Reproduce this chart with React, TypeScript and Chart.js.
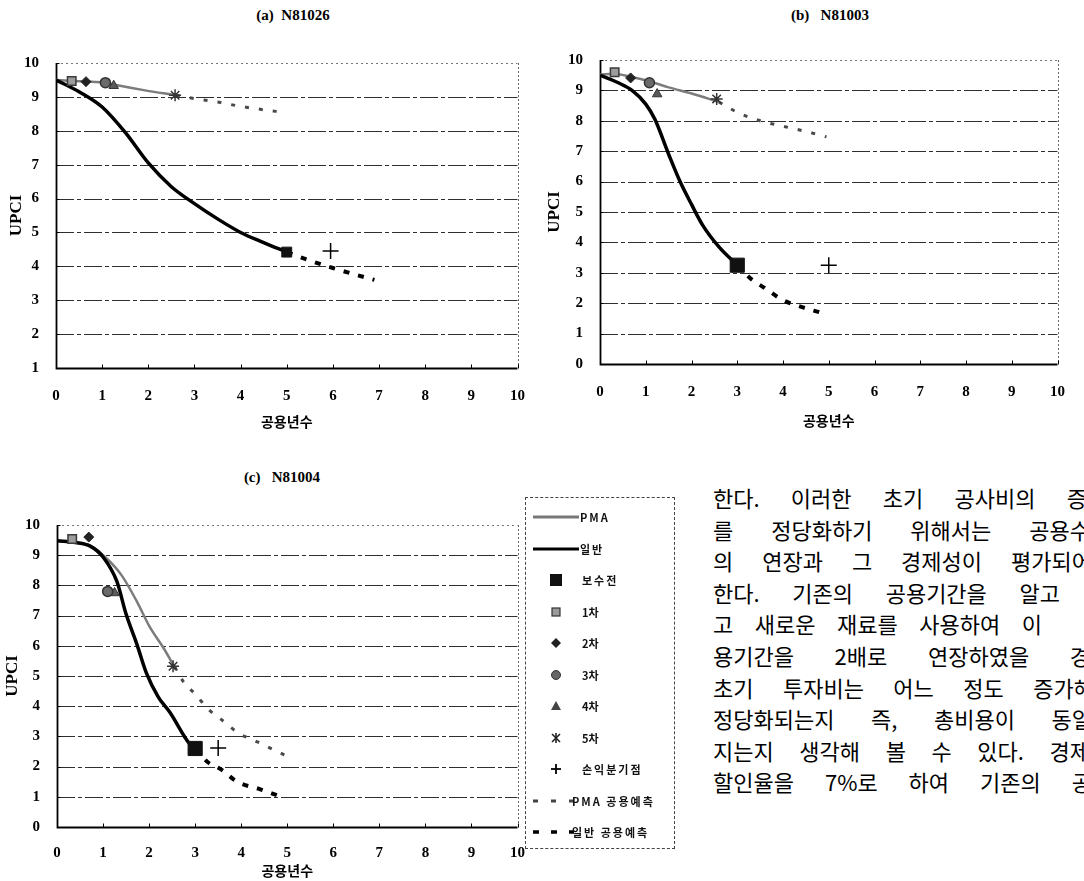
import React, { useEffect, useRef } from "react";
import { Chart, registerables } from "chart.js";

Chart.register(...registerables);

// ---------- data ----------
const X_MIN = 0;
const X_MAX = 10;
const Y_MAX = 10;
const MARKER_NAMES = ["보수전", "1차", "2차", "3차", "4차", "5차", "손익분기점"];
const LEGEND_NAMES = ["PMA", "일반", "보수전", "1차", "2차", "3차", "4차", "5차", "손익분기점", "PMA 공용예측", "일반 공용예측"];
const X_TITLE = "공용년수";
const Y_TITLE = "UPCI";

// (a) N81026
const aTitle = "(a)  N81026";
const aPmaX = [0, 0.35, 0.65, 1.05, 1.3, 1.9, 2.6];
const aPmaY = [9.5, 9.47, 9.45, 9.42, 9.35, 9.2, 9.05];
const aGenX = [0, 0.5, 1, 1.5, 2, 2.5, 3, 3.5, 4, 4.5, 5];
const aGenY = [9.5, 9.15, 8.7, 7.95, 7.05, 6.35, 5.85, 5.4, 5.0, 4.7, 4.42];
const aPmaPredX = [2.6, 3.0, 3.5, 4.0, 4.5, 4.9];
const aPmaPredY = [9.05, 8.95, 8.85, 8.72, 8.62, 8.55];
const aGenPredX = [5, 5.5, 6, 6.5, 6.9];
const aGenPredY = [4.42, 4.17, 3.95, 3.75, 3.6];
const aMarkX = [5.0, 0.34, 0.65, 1.07, 1.25, 2.58, 5.95];
const aMarkY = [4.42, 9.47, 9.45, 9.42, 9.33, 9.05, 4.45];

// (b) N81003
const bTitle = "(b)   N81003";
const bPmaX = [0, 0.3, 0.67, 1.08, 1.5, 2.0, 2.6];
const bPmaY = [9.52, 9.55, 9.45, 9.3, 9.1, 8.9, 8.62];
const bGenX = [0, 0.4, 0.7, 1.0, 1.2, 1.5, 1.75, 2.0, 2.25, 2.6, 3.0];
const bGenY = [9.5, 9.25, 9.0, 8.55, 8.05, 6.9, 6.0, 5.25, 4.55, 3.85, 3.25];
const bPmaPredX = [2.6, 3.0, 3.5, 4.0, 4.5, 4.95];
const bPmaPredY = [8.62, 8.28, 8.0, 7.82, 7.65, 7.47];
const bGenPredX = [3.0, 3.3, 3.6, 4.0, 4.4, 4.8];
const bGenPredY = [3.25, 2.8, 2.5, 2.1, 1.88, 1.7];
const bMarkX = [3.0, 0.32, 0.67, 1.08, 1.25, 2.55, 5.0];
const bMarkY = [3.25, 9.6, 9.41, 9.25, 8.88, 8.72, 3.25];

// (c) N81004
const cTitle = "(c)   N81004";
const cPmaX = [0, 0.4, 0.72, 1.08, 1.4, 1.73, 2.02, 2.3, 2.55];
const cPmaY = [9.48, 9.42, 9.32, 8.89, 8.34, 7.48, 6.61, 5.96, 5.31];
const cGenX = [0, 0.4, 0.72, 1.0, 1.3, 1.5, 1.73, 1.94, 2.2, 2.45, 2.88, 3.0];
const cGenY = [9.48, 9.42, 9.3, 8.94, 8.13, 7.05, 6.07, 5.1, 4.3, 3.8, 2.75, 2.6];
const cPmaPredX = [2.55, 2.75, 3.0, 3.3, 3.55, 3.95, 4.35, 4.7, 5.0];
const cPmaPredY = [5.31, 4.8, 4.4, 3.88, 3.58, 3.1, 2.82, 2.56, 2.34];
const cGenPredX = [3.0, 3.27, 3.57, 3.91, 4.43, 4.78];
const cGenPredY = [2.6, 2.15, 1.9, 1.5, 1.24, 1.05];
const cMarkX = [3.0, 0.33, 0.69, 1.1, 1.25, 2.52, 3.5];
const cMarkY = [2.6, 9.54, 9.6, 7.8, 7.75, 5.32, 2.62];

const TEXT_LINES = [
  "한다. 이러한 초기 공사비의 증",
  "를 정당화하기 위해서는 공용수",
  "의 연장과 그 경제성이 평가되어",
  "한다. 기존의 공용기간을 알고",
  "고 새로운 재료를 사용하여 이",
  "용기간을 2배로 연장하였을 경",
  "초기 투자비는 어느 정도 증가해",
  "정당화되는지 즉, 총비용이 동일",
  "지는지 생각해 볼 수 있다. 경제",
  "할인율을 7%로 하여 기존의 공",
];

// ---------- styles / layout ----------
const SERIF = '"Liberation Serif", "Times New Roman", serif';
const KR = '"Noto Sans CJK KR", "Noto Sans", sans-serif';
const TEXT_LEFT = 713;
const TEXT_RIGHT = [1087, 1090, 1092, 1060, 1042, 1090, 1094, 1092, 1090, 1092];

const MARKER_STYLE = [
  { pointStyle: "rect", bg: "#111", border: "#111", bw: 1 },
  { pointStyle: "rect", bg: "#9c9c9c", border: "#3a3a3a", bw: 1.5, radius: 6 },
  { pointStyle: "rectRot", bg: "#222", border: "#222", bw: 1, radius: 5 },
  { pointStyle: "circle", bg: "#6a6a6a", border: "#333", bw: 1.5, radius: 5 },
  { pointStyle: "triangle", bg: "#5a5a5a", border: "#333", bw: 1, radius: 5.5 },
  { pointStyle: "star", bg: "#333", border: "#333", bw: 1.5, radius: 6 },
  { pointStyle: "cross", bg: "#000", border: "#000", bw: 1.5, radius: 8 },
];

const zip = (xs: number[], ys: number[]) => xs.map((x, i) => ({ x, y: ys[i] }));

type PanelCfg = {
  title: string;
  titleX: number;
  titleY: number;
  left: number;
  top: number;
  w: number;
  h: number;
  yMin: number;
  yWidth: number;
  yTitlePad: number;
  xTickPad: number;
  xTitlePadB: number;
  squareR: number;
  pmaX: number[]; pmaY: number[];
  genX: number[]; genY: number[];
  pmaPredX: number[]; pmaPredY: number[];
  genPredX: number[]; genPredY: number[];
  markX: number[]; markY: number[];
};

const PANELS: PanelCfg[] = [
  {
    title: aTitle, titleX: 293, titleY: 15,
    left: 0, top: 45, w: 536, h: 389, yMin: 1, yWidth: 56, yTitlePad: 6, xTickPad: 11, xTitlePadB: 4, squareR: 7,
    pmaX: aPmaX, pmaY: aPmaY, genX: aGenX, genY: aGenY, pmaPredX: aPmaPredX, pmaPredY: aPmaPredY,
    genPredX: aGenPredX, genPredY: aGenPredY, markX: aMarkX, markY: aMarkY,
  },
  {
    title: bTitle, titleX: 830, titleY: 15,
    left: 544, top: 42, w: 532, h: 388, yMin: 0, yWidth: 56, yTitlePad: 0, xTickPad: 11, xTitlePadB: 1, squareR: 10,
    pmaX: bPmaX, pmaY: bPmaY, genX: bGenX, genY: bGenY, pmaPredX: bPmaPredX, pmaPredY: bPmaPredY,
    genPredX: bGenPredX, genPredY: bGenPredY, markX: bMarkX, markY: bMarkY,
  },
  {
    title: cTitle, titleX: 282, titleY: 477,
    left: 0, top: 507, w: 534, h: 386, yMin: 0, yWidth: 57, yTitlePad: 2, xTickPad: 9, xTitlePadB: 14, squareR: 10,
    pmaX: cPmaX, pmaY: cPmaY, genX: cGenX, genY: cGenY, pmaPredX: cPmaPredX, pmaPredY: cPmaPredY,
    genPredX: cGenPredX, genPredY: cGenPredY, markX: cMarkX, markY: cMarkY,
  },
];

const framePlugin = {
  id: "frame",
  beforeDatasetsDraw(chart: any) {
    const { ctx, chartArea, scales } = chart;
    const { left, right, top, bottom } = chartArea;
    const x = scales.x;
    const y = scales.y;
    ctx.save();
    y.ticks.forEach((t: any) => {
      const py = Math.round(y.getPixelForValue(t.value)) + 0.5;
      if (t.value === y.min) return;
      ctx.beginPath();
      if (t.value === y.max) {
        ctx.strokeStyle = "#777";
        ctx.lineWidth = 1;
        ctx.setLineDash([2, 3]);
      } else {
        ctx.strokeStyle = "#2e2e2e";
        ctx.lineWidth = 1.2;
        ctx.setLineDash([18, 3, 4, 3]);
      }
      ctx.moveTo(left, py);
      ctx.lineTo(right, py);
      ctx.stroke();
    });
    ctx.beginPath();
    ctx.strokeStyle = "#666";
    ctx.lineWidth = 1;
    ctx.setLineDash([2, 2]);
    const rx = Math.round(x.getPixelForValue(x.max)) + 0.5;
    ctx.moveTo(rx, top);
    ctx.lineTo(rx, bottom);
    ctx.stroke();
    ctx.setLineDash([]);
    ctx.strokeStyle = "#000";
    ctx.lineWidth = 1.8;
    const lx = Math.round(x.getPixelForValue(x.min)) + 0.5;
    const by = Math.round(y.getPixelForValue(y.min)) + 0.5;
    ctx.beginPath();
    ctx.moveTo(lx, top);
    ctx.lineTo(lx, by);
    ctx.lineTo(right, by);
    ctx.stroke();
    ctx.lineWidth = 1;
    x.ticks.forEach((t: any) => {
      const px = Math.round(x.getPixelForValue(t.value)) + 0.5;
      ctx.beginPath();
      ctx.moveTo(px, by);
      ctx.lineTo(px, by - 4);
      ctx.stroke();
    });
    y.ticks.forEach((t: any) => {
      const py = Math.round(y.getPixelForValue(t.value)) + 0.5;
      ctx.beginPath();
      ctx.moveTo(lx, py);
      ctx.lineTo(lx + 3, py);
      ctx.stroke();
    });
    ctx.restore();
  },
};

function buildConfig(p: PanelCfg): any {
  const markerSets = MARKER_NAMES.map((name, k) => {
    const st = MARKER_STYLE[k];
    const has = p.markX[k] !== null && p.markX[k] !== undefined;
    return {
      label: name,
      data: has ? [{ x: p.markX[k], y: p.markY[k] }] : [],
      showLine: false,
      pointStyle: st.pointStyle,
      pointRadius: k === 0 ? p.squareR : st.radius,
      pointBackgroundColor: st.bg,
      pointBorderColor: st.border,
      pointBorderWidth: st.bw,
      order: 0,
    };
  });
  const lineSets = [
    {
      label: "PMA",
      data: zip(p.pmaX, p.pmaY),
      borderColor: "#7c7c7c",
      borderWidth: 2.5,
      pointRadius: 0,
      cubicInterpolationMode: "monotone",
      order: 2,
    },
    {
      label: "일반",
      data: zip(p.genX, p.genY),
      borderColor: "#000",
      borderWidth: 3.5,
      pointRadius: 0,
      cubicInterpolationMode: "monotone",
      order: 1,
    },
    {
      label: "PMA 공용예측",
      data: zip(p.pmaPredX, p.pmaPredY),
      borderColor: "#4a4a4a",
      borderWidth: 3,
      borderDash: [4, 10],
      pointRadius: 0,
      cubicInterpolationMode: "monotone",
      order: 2,
    },
    {
      label: "일반 공용예측",
      data: zip(p.genPredX, p.genPredY),
      borderColor: "#000",
      borderWidth: 4,
      borderDash: [6, 9],
      pointRadius: 0,
      cubicInterpolationMode: "monotone",
      order: 1,
    },
  ];
  return {
    type: "line",
    data: { datasets: [...markerSets, ...lineSets] },
    options: {
      animation: false,
      responsive: false,
      maintainAspectRatio: false,
      devicePixelRatio: 1,
      layout: { padding: { top: 12, right: 14, left: 0, bottom: 0 } },
      plugins: { legend: { display: false }, tooltip: { enabled: false } },
      scales: {
        x: {
          type: "linear",
          min: X_MIN,
          max: X_MAX,
          ticks: {
            stepSize: 1,
            color: "#000",
            padding: p.xTickPad,
            font: { family: SERIF, weight: "bold", size: 15 },
          },
          grid: { display: false },
          border: { display: false },
          title: {
            display: true,
            text: X_TITLE,
            color: "#000",
            font: { family: KR, weight: "bold", size: 14 },
            padding: { top: 0, bottom: p.xTitlePadB },
          },
          afterFit: (s: any) => {
            s.height = 66;
          },
        },
        y: {
          type: "linear",
          min: p.yMin,
          max: Y_MAX,
          ticks: {
            stepSize: 1,
            color: "#000",
            padding: 9,
            font: { family: SERIF, weight: "bold", size: 15 },
          },
          grid: { display: false },
          border: { display: false },
          title: {
            display: true,
            text: Y_TITLE,
            color: "#000",
            font: { family: SERIF, weight: "bold", size: 17 },
            padding: { top: p.yTitlePad, bottom: 0 },
          },
          afterFit: (s: any) => {
            s.width = p.yWidth;
          },
        },
      },
    },
    plugins: [framePlugin],
  };
}

function Panel({ p }: { p: PanelCfg }) {
  const ref = useRef<HTMLCanvasElement>(null);
  useEffect(() => {
    const chart = new Chart(ref.current as HTMLCanvasElement, buildConfig(p));
    return () => chart.destroy();
  }, []);
  return (
    <>
      <div
        style={{
          position: "absolute",
          left: p.titleX - 100,
          top: p.titleY - 9,
          width: 200,
          textAlign: "center",
          fontFamily: SERIF,
          fontWeight: "bold",
          fontSize: 15,
          lineHeight: "18px",
          whiteSpace: "pre",
          color: "#000",
        }}
      >
        {p.title}
      </div>
      <canvas
        ref={ref}
        width={p.w}
        height={p.h}
        style={{ position: "absolute", left: p.left, top: p.top, width: p.w, height: p.h }}
      />
    </>
  );
}

function LegendMarker({ idx }: { idx: number }) {
  const cx = 28;
  const cy = 8;
  switch (LEGEND_NAMES[idx]) {
    case "PMA":
      return <line x1={5} y1={cy} x2={51} y2={cy} stroke="#777" strokeWidth={3} />;
    case "일반":
      return <line x1={5} y1={cy} x2={51} y2={cy} stroke="#000" strokeWidth={3} />;
    case "보수전":
      return <rect x={cx - 6} y={cy - 6} width={12} height={12} fill="#111" />;
    case "1차":
      return <rect x={cx - 4} y={cy - 4} width={8} height={8} fill="#9c9c9c" stroke="#333" strokeWidth={1.2} />;
    case "2차":
      return <polygon points={`${cx},${cy - 5} ${cx + 5},${cy} ${cx},${cy + 5} ${cx - 5},${cy}`} fill="#222" />;
    case "3차":
      return <circle cx={cx} cy={cy} r={4.5} fill="#666" stroke="#333" />;
    case "4차":
      return <polygon points={`${cx},${cy - 5} ${cx + 5},${cy + 4} ${cx - 5},${cy + 4}`} fill="#444" />;
    case "5차":
      return (
        <g stroke="#222" strokeWidth={1.6}>
          <line x1={cx - 4} y1={cy - 4} x2={cx + 4} y2={cy + 4} />
          <line x1={cx - 4} y1={cy + 4} x2={cx + 4} y2={cy - 4} />
          <line x1={cx} y1={cy - 5} x2={cx} y2={cy + 5} />
        </g>
      );
    case "손익분기점":
      return (
        <g stroke="#000" strokeWidth={1.8}>
          <line x1={cx - 5} y1={cy} x2={cx + 5} y2={cy} />
          <line x1={cx} y1={cy - 5} x2={cx} y2={cy + 5} />
        </g>
      );
    case "PMA 공용예측":
      return <line x1={5} y1={cy} x2={46} y2={cy} stroke="#444" strokeWidth={3} strokeDasharray="5 13" />;
    default:
      return <line x1={5} y1={cy} x2={46} y2={cy} stroke="#000" strokeWidth={3.5} strokeDasharray="6 12" />;
  }
}

function Legend() {
  const rowTop = 516;
  const step = 31.5;
  return (
    <div
      style={{
        position: "absolute",
        left: 525,
        top: 497,
        width: 150,
        height: 352,
        border: "1px dashed #444",
        boxSizing: "border-box",
      }}
    >
      {LEGEND_NAMES.map((name, i) => {
        const isLine = i < 2;
        const isPred = i >= 9;
        const labelLeft = isLine ? 54 : isPred ? 46 : 56;
        return (
          <div key={name} style={{ position: "absolute", left: 0, top: rowTop - 497 + i * step - 8, height: 16, width: 150 }}>
            <svg width={56} height={16} style={{ position: "absolute", left: 2, top: 0 }}>
              <LegendMarker idx={i} />
            </svg>
            <div
              style={{
                position: "absolute",
                left: labelLeft,
                top: 0,
                fontFamily: KR,
                fontSize: 11,
                fontWeight: "bold",
                lineHeight: "16px",
                letterSpacing: i >= 3 && i <= 7 ? 0 : 2,
                whiteSpace: "nowrap",
                color: "#111",
              }}
            >
              {name}
            </div>
          </div>
        );
      })}
    </div>
  );
}

function Paragraph() {
  return (
    <>
      {TEXT_LINES.map((t, i) => (
        <div
          key={i}
          style={{
            position: "absolute",
            left: TEXT_LEFT,
            top: 497 + i * 31.6 - 16,
            width: TEXT_RIGHT[i] - TEXT_LEFT,
            fontFamily: KR,
            fontSize: 22,
            lineHeight: "32px",
            textAlign: "justify",
            textAlignLast: "justify" as any,
            color: "#000",
          }}
        >
          {t}
        </div>
      ))}
    </>
  );
}

export default function App() {
  return (
    <div
      style={{
        position: "fixed",
        left: 0,
        top: 0,
        width: 1084,
        height: 881,
        overflow: "hidden",
        background: "#fff",
      }}
    >
      {PANELS.map((p, i) => (
        <Panel key={i} p={p} />
      ))}
      <Legend />
      <Paragraph />
    </div>
  );
}
